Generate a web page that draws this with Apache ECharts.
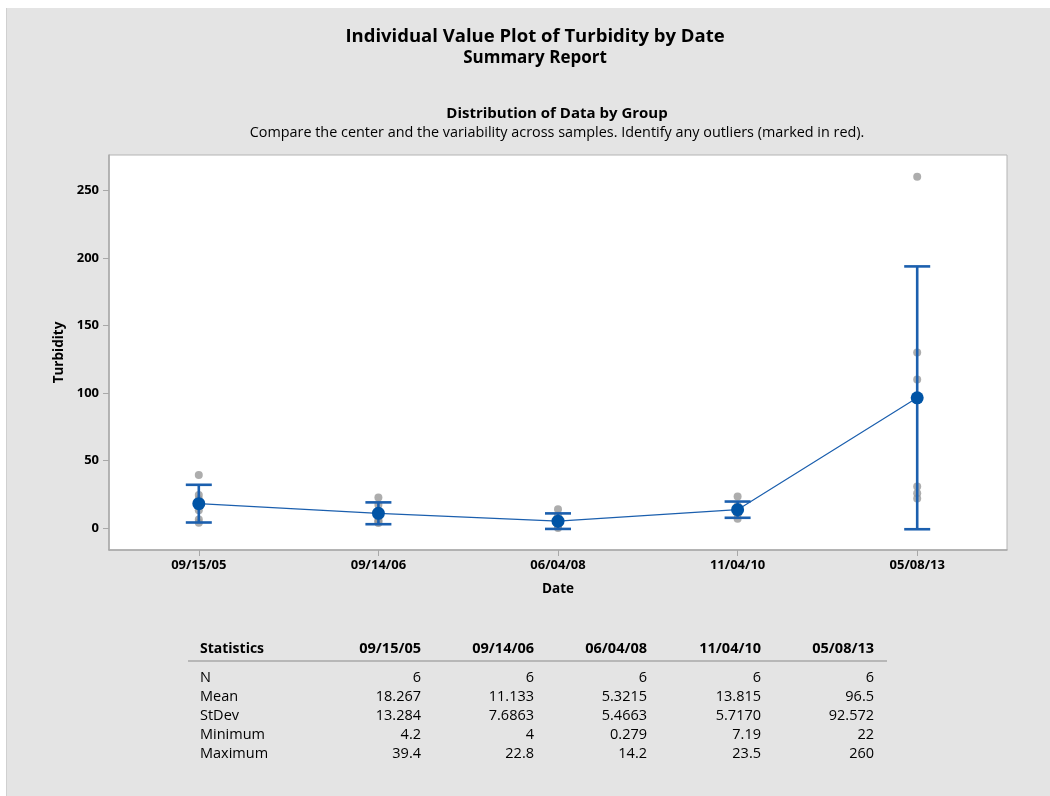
<!DOCTYPE html>
<html>
<head>
<meta charset="utf-8">
<script src="https://cdn.jsdelivr.net/npm/echarts@6/dist/echarts.min.js"></script>
<style>
html,body{margin:0;padding:0;background:#fff;}
#chart{width:1050px;height:796px;}
</style>
</head>
<body>
<div id="chart"></div>
<script>
// ---- data ----
const categories = ['09/15/05', '09/14/06', '06/04/08', '11/04/10', '05/08/13'];
const values0 = [39.4, 24.6, 21.5, 13.4, 6.5, 4.2];
const values1 = [22.8, 17.5, 11.5, 6, 5, 4];
const values2 = [14.2, 9.5, 4.5, 2.2, 1.25, 0.279];
const values3 = [23.5, 16.5, 14, 11, 10.7, 7.19];
const values4 = [260, 130, 110, 31, 26, 22];
const means = [18.267, 11.133, 5.3215, 13.815, 96.5];
const ciLow = [4.33, 3.07, -0.42, 7.81, -0.65];
const ciHigh = [32.2, 19.2, 11.06, 19.82, 193.65];
const yTicks = [0, 50, 100, 150, 200, 250];
const statNames = ['N', 'Mean', 'StDev', 'Minimum', 'Maximum'];
const statN = ['6', '6', '6', '6', '6'];
const statMean = ['18.267', '11.133', '5.3215', '13.815', '96.5'];
const statStDev = ['13.284', '7.6863', '5.4663', '5.7170', '92.572'];
const statMin = ['4.2', '4', '0.279', '7.19', '22'];
const statMax = ['39.4', '22.8', '14.2', '23.5', '260'];

const groups = [values0, values1, values2, values3, values4];
const statRows = [statN, statMean, statStDev, statMin, statMax];

const FONT = 'Open Sans';
const individual = [];
groups.forEach((g, i) => g.forEach(v => individual.push([i, v])));
const ciData = categories.map((c, i) => [i, ciLow[i], ciHigh[i]]);

// table as graphic text
const colRight = [421, 534, 647, 761, 874];
const headerY = 649;
const rowY0 = 678, rowStep = 18.9;
const graphics = [
  {type: 'rect', left: 0, top: 0, shape: {width: 1050, height: 8}, style: {fill: '#ffffff'}, silent: true},
  {type: 'rect', left: 0, top: 0, shape: {width: 6, height: 796}, style: {fill: '#ffffff'}, silent: true},
  {type: 'rect', left: 6, top: 8, shape: {width: 1, height: 788}, style: {fill: '#d0d0d0'}, silent: true},
  {type: 'text', x: 200, y: headerY, style: {text: 'Statistics', font: 'bold 14px "' + FONT + '"', fill: '#000', textVerticalAlign: 'middle'}},
  {type: 'line', shape: {x1: 188, y1: 661, x2: 887, y2: 661}, style: {stroke: '#a9a9a9', lineWidth: 1.6}}
];
categories.forEach((c, j) => {
  graphics.push({type: 'text', x: colRight[j], y: headerY, style: {text: c, font: 'bold 14.5px "' + FONT + '"', fill: '#000', textAlign: 'right', textVerticalAlign: 'middle'}});
});
statNames.forEach((n, r) => {
  const y = rowY0 + r * rowStep;
  graphics.push({type: 'text', x: 200, y: y, style: {text: n, font: '14.5px "' + FONT + '"', fill: '#000', textVerticalAlign: 'middle'}});
  statRows[r].forEach((v, j) => {
    graphics.push({type: 'text', x: colRight[j], y: y, style: {text: v, font: '14.5px "' + FONT + '"', fill: '#000', textAlign: 'right', textVerticalAlign: 'middle'}});
  });
});

const chart = echarts.init(document.getElementById('chart'), null, {renderer: 'canvas'});
chart.setOption({
  backgroundColor: '#e4e4e4',
  animation: false,
  textStyle: {fontFamily: FONT},
  title: [
    {text: 'Individual Value Plot of Turbidity by Date', left: 530, top: 22, textAlign: 'center',
     textStyle: {fontSize: 18.5, fontWeight: 'bold', color: '#000', fontFamily: FONT}},
    {text: 'Summary Report', left: 530, top: 45, textAlign: 'center',
     textStyle: {fontSize: 17, fontWeight: 'bold', color: '#000', fontFamily: FONT}},
    {text: 'Distribution of Data by Group', left: 552, top: 101, textAlign: 'center',
     textStyle: {fontSize: 15, fontWeight: 'bold', color: '#000', fontFamily: FONT}},
    {text: 'Compare the center and the variability across samples. Identify any outliers (marked in red).', left: 552, top: 121, textAlign: 'center',
     textStyle: {fontSize: 14.4, fontWeight: 'normal', color: '#000', fontFamily: FONT}}
  ],
  grid: {left: 109, top: 155, width: 898, height: 395, show: true, backgroundColor: '#ffffff', borderColor: '#b4b4b4', borderWidth: 1, containLabel: false},
  xAxis: {
    type: 'category', data: categories, boundaryGap: true,
    name: 'Date', nameLocation: 'middle', nameGap: 32,
    nameTextStyle: {fontSize: 13.5, fontWeight: 'bold', color: '#000'},
    axisLine: {show: true, onZero: false, lineStyle: {color: '#a8a8a8', width: 1.5}},
    axisTick: {show: true, alignWithLabel: true, length: 6, lineStyle: {color: '#a8a8a8'}},
    axisLabel: {fontSize: 13, fontWeight: 'bold', color: '#000', margin: 9},
    splitLine: {show: false}
  },
  yAxis: {
    type: 'value', min: -16, max: 276,
    name: 'Turbidity', nameLocation: 'middle', nameGap: 41, nameRotate: 90,
    nameTextStyle: {fontSize: 13.5, fontWeight: 'bold', color: '#000'},
    axisLine: {show: true, lineStyle: {color: '#a8a8a8', width: 1.5}},
    axisTick: {show: true, length: 6, lineStyle: {color: '#a8a8a8'}, customValues: yTicks},
    axisLabel: {fontSize: 13, fontWeight: 'bold', color: '#000', margin: 10, customValues: yTicks},
    splitLine: {show: false}
  },
  graphic: graphics,
  series: [
    {
      type: 'scatter', data: individual, symbol: 'circle', symbolSize: 8,
      itemStyle: {color: '#999999'}, z: 2
    },
    {
      type: 'custom', data: ciData, z: 3,
      renderItem: function (params, api) {
        const x = api.value(0);
        const lo = api.coord([x, api.value(1)]);
        const hi = api.coord([x, api.value(2)]);
        const half = 13;
        const st = {stroke: '#1b5fae', lineWidth: 2.6};
        return {type: 'group', children: [
          {type: 'line', shape: {x1: lo[0], y1: lo[1], x2: hi[0], y2: hi[1]}, style: st},
          {type: 'line', shape: {x1: lo[0] - half, y1: lo[1], x2: lo[0] + half, y2: lo[1]}, style: st},
          {type: 'line', shape: {x1: hi[0] - half, y1: hi[1], x2: hi[0] + half, y2: hi[1]}, style: st}
        ]};
      }
    },
    {
      type: 'line', data: means, symbol: 'circle', symbolSize: 13, z: 4,
      lineStyle: {color: '#1b5fae', width: 1.2},
      itemStyle: {color: '#0054a6'}
    }
  ]
});
</script>
</body>
</html>
